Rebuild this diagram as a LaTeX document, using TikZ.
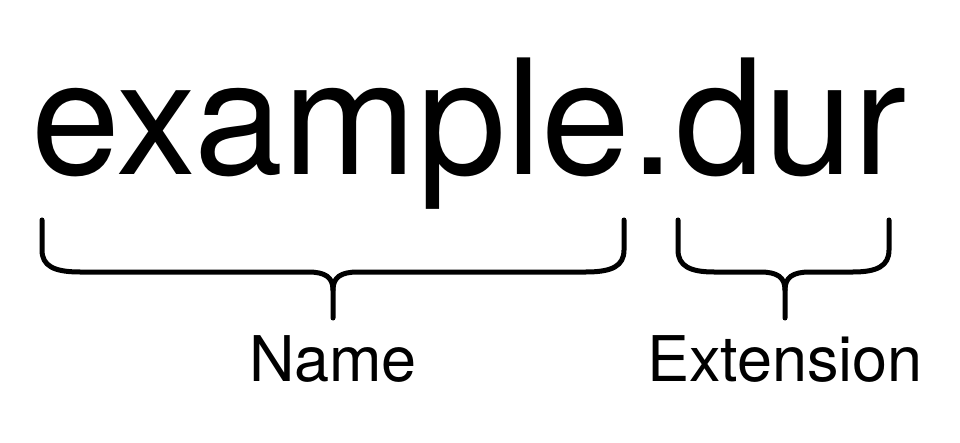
\documentclass[tikz,border=0pt]{standalone}
\usepackage{fontspec}
\setmainfont{TeX Gyre Heros}
\usepackage{tikz}
\usetikzlibrary{positioning}

\begin{document}
\begin{tikzpicture}[x=1pt,y=1pt,
    bracketline/.style={line width=5pt,line cap=round,line join=round},
    partlabel/.style={inner sep=0pt,font=\fontsize{63}{70}\selectfont}]
  \useasboundingbox (0,0) rectangle (960,442);
  \node[inner sep=0pt,anchor=base,font=\fontsize{160}{170}\selectfont] (file) at (469,267) {example.dur};
  % brace under the name
  \coordinate (nameTip) at (333,124);
  \draw[bracketline] (42,222) -- (42,192) .. controls (42,176) and (54,170) .. (80,170)
    -- (308,170) .. controls (325,170) and (333,165) .. (333,152) -- (nameTip);
  \draw[bracketline] (333,152) .. controls (333,165) and (341,170) .. (358,170)
    -- (586,170) .. controls (612,170) and (624,176) .. (624,192) -- (624,222);
  % brace under the extension
  \coordinate (extTip) at (785,124);
  \draw[bracketline] (678,222) -- (678,192) .. controls (678,176) and (690,170) .. (714,170)
    -- (760,170) .. controls (777,170) and (785,165) .. (785,152) -- (extTip);
  \draw[bracketline] (785,152) .. controls (785,165) and (793,170) .. (810,170)
    -- (853,170) .. controls (877,170) and (889,176) .. (889,192) -- (889,222);
  \node[partlabel,below=17pt of nameTip] (name) {Name};
  \node[partlabel,below=17pt of extTip] (ext) {Extension};
\end{tikzpicture}
\end{document}
